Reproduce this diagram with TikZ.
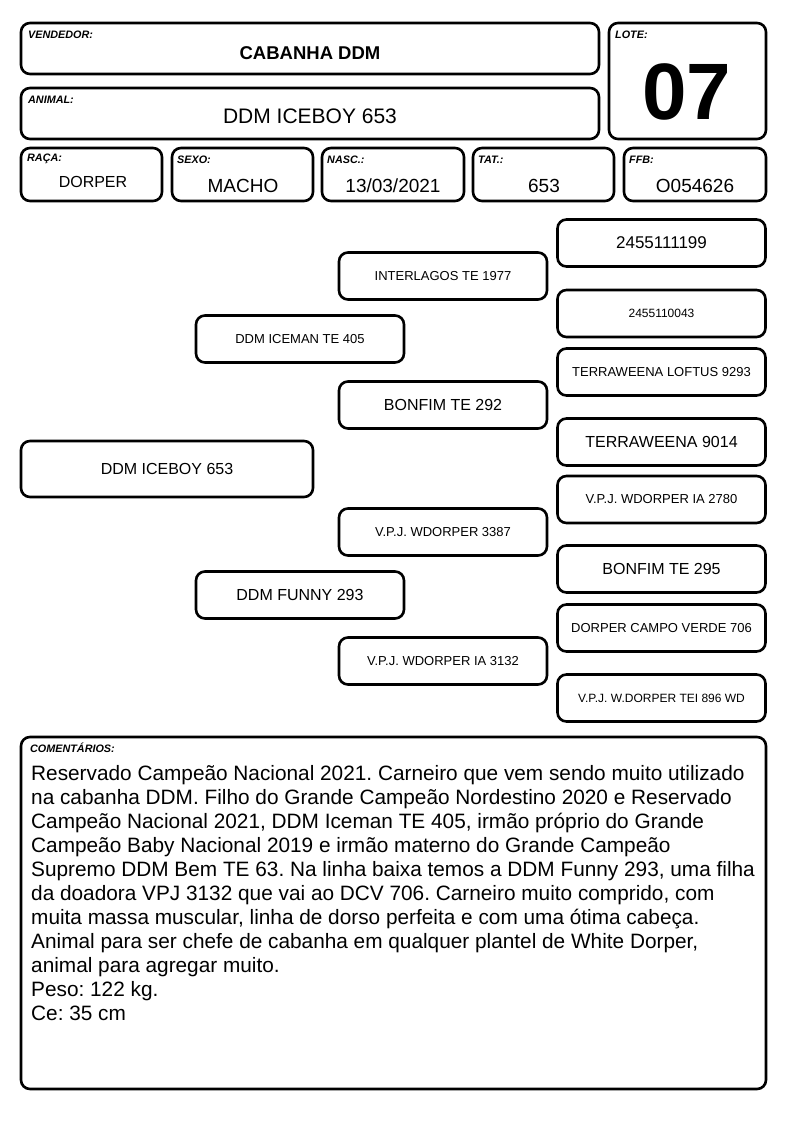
\documentclass[tikz,border=0pt]{standalone}
\usepackage{fontspec}
\setmainfont{Liberation Sans}
\newcommand\fsz[1]{\fontsize{#1}{#1}\selectfont}
\frenchspacing
\begin{document}
\begin{tikzpicture}[x=1pt,y=-1pt,
  box/.style={draw, line width=2.6pt, rounded corners=9pt, inner sep=0pt, outer sep=0pt},
  pbox/.style={box, minimum width=208pt, minimum height=47pt},
  lbl/.style={anchor=west, inner sep=0pt, font=\fsz{10.8}\bfseries\itshape},
  val/.style={inner sep=0pt}]
\useasboundingbox (0,0) rectangle (794,1123);
% header boxes
\node[box, minimum width=578pt, minimum height=51pt] (vend) at (310,48.5) {};
\node[box, minimum width=157pt, minimum height=116pt] (lote) at (687.5,81) {};
\node[box, minimum width=578pt, minimum height=51pt] (anim) at (310,113.5) {};
\node[box, minimum width=141pt, minimum height=53pt] (raca) at (91.5,174.5) {};
\node[box, minimum width=141pt, minimum height=53pt] (sexo) at (242.5,174.5) {};
\node[box, minimum width=142pt, minimum height=53pt] (nasc) at (393,174.5) {};
\node[box, minimum width=141pt, minimum height=53pt] (tat) at (543.5,174.5) {};
\node[box, minimum width=142pt, minimum height=53pt] (ffb) at (695,174.5) {};
\node[lbl] (lvend) at (28,35) {VENDEDOR:};
\node[lbl] (llote) at (615,35) {LOTE:};
\node[lbl] (lanim) at (28,100) {ANIMAL:};
\node[lbl] (lraca) at (27,159) {RAÇA:};
\node[lbl] (lsexo) at (177,160) {SEXO:};
\node[lbl] (lnasc) at (327,160) {NASC.:};
\node[lbl] (ltat) at (478,160) {TAT.:};
\node[lbl] (lffb) at (629,160) {FFB:};
\node[val, font=\fsz{18.5}\bfseries] (tvend) at (310,53) {CABANHA DDM};
\node[val, font=\fsz{80}\bfseries] (tlote) at (687,92) {07};
\node[val, font=\fsz{21}] (tanim) at (310,116) {DDM ICEBOY 653};
\node[val, font=\fsz{16}] (traca) at (93,182) {DORPER};
\node[val, font=\fsz{19}] (tsexo) at (243,186) {MACHO};
\node[val, font=\fsz{19}] (tnasc) at (393,186) {13/03/2021};
\node[val, font=\fsz{19}] (ttat) at (544,186) {653};
\node[val, font=\fsz{19}] (tffb) at (695,186) {O054626};
% pedigree
\node[pbox, font=\fsz{17}] (p1) at (661.5,243) {2455111199};
\node[pbox, font=\fsz{13}] (p2) at (443,276) {INTERLAGOS TE 1977};
\node[pbox, font=\fsz{12}] (p3) at (661.5,313.5) {2455110043};
\node[pbox, font=\fsz{13}] (p4) at (300,339) {DDM ICEMAN TE 405};
\node[pbox, font=\fsz{13}] (p5) at (661.5,372) {TERRAWEENA LOFTUS 9293};
\node[pbox, font=\fsz{16}] (p6) at (443,405) {BONFIM TE 292};
\node[pbox, font=\fsz{16}] (p7) at (661.5,442) {TERRAWEENA 9014};
\node[box, minimum width=292pt, minimum height=56pt, font=\fsz{16}] (p8) at (167,469) {DDM ICEBOY 653};
\node[pbox, font=\fsz{13}] (p9) at (661.5,499.5) {V.P.J. WDORPER IA 2780};
\node[pbox, font=\fsz{13}] (p10) at (443,532) {V.P.J. WDORPER 3387};
\node[pbox, font=\fsz{16}] (p11) at (661.5,569) {BONFIM TE 295};
\node[pbox, font=\fsz{16}] (p12) at (300,595) {DDM FUNNY 293};
\node[pbox, font=\fsz{13}] (p13) at (661.5,628) {DORPER CAMPO VERDE 706};
\node[pbox, font=\fsz{13}] (p14) at (443,661) {V.P.J. WDORPER IA 3132};
\node[pbox, font=\fsz{12}] (p15) at (661.5,698) {V.P.J. W.DORPER TEI 896 WD};
% comments
\node[box, minimum width=745pt, minimum height=352pt] (com) at (393.5,913) {};
\node[lbl] (lcom) at (30,748) {COMENTÁRIOS:};
\node[anchor=north west, inner sep=0pt, align=left, font=\fontsize{20.8}{24}\selectfont] (tcom) at (31,765) {Reservado Campeão Nacional 2021. Carneiro que vem sendo muito utilizado\\
na cabanha DDM. Filho do Grande Campeão Nordestino 2020 e Reservado\\
Campeão Nacional 2021, DDM Iceman TE 405, irmão próprio do Grande\\
Campeão Baby Nacional 2019 e irmão materno do Grande Campeão\\
Supremo DDM Bem TE 63. Na linha baixa temos a DDM Funny 293, uma filha\\
da doadora VPJ 3132 que vai ao DCV 706. Carneiro muito comprido, com\\
muita massa muscular, linha de dorso perfeita e com uma ótima cabeça.\\
Animal para ser chefe de cabanha em qualquer plantel de White Dorper,\\
animal para agregar muito.\\
Peso: 122 kg.\\
Ce: 35 cm};
\end{tikzpicture}
\end{document}
